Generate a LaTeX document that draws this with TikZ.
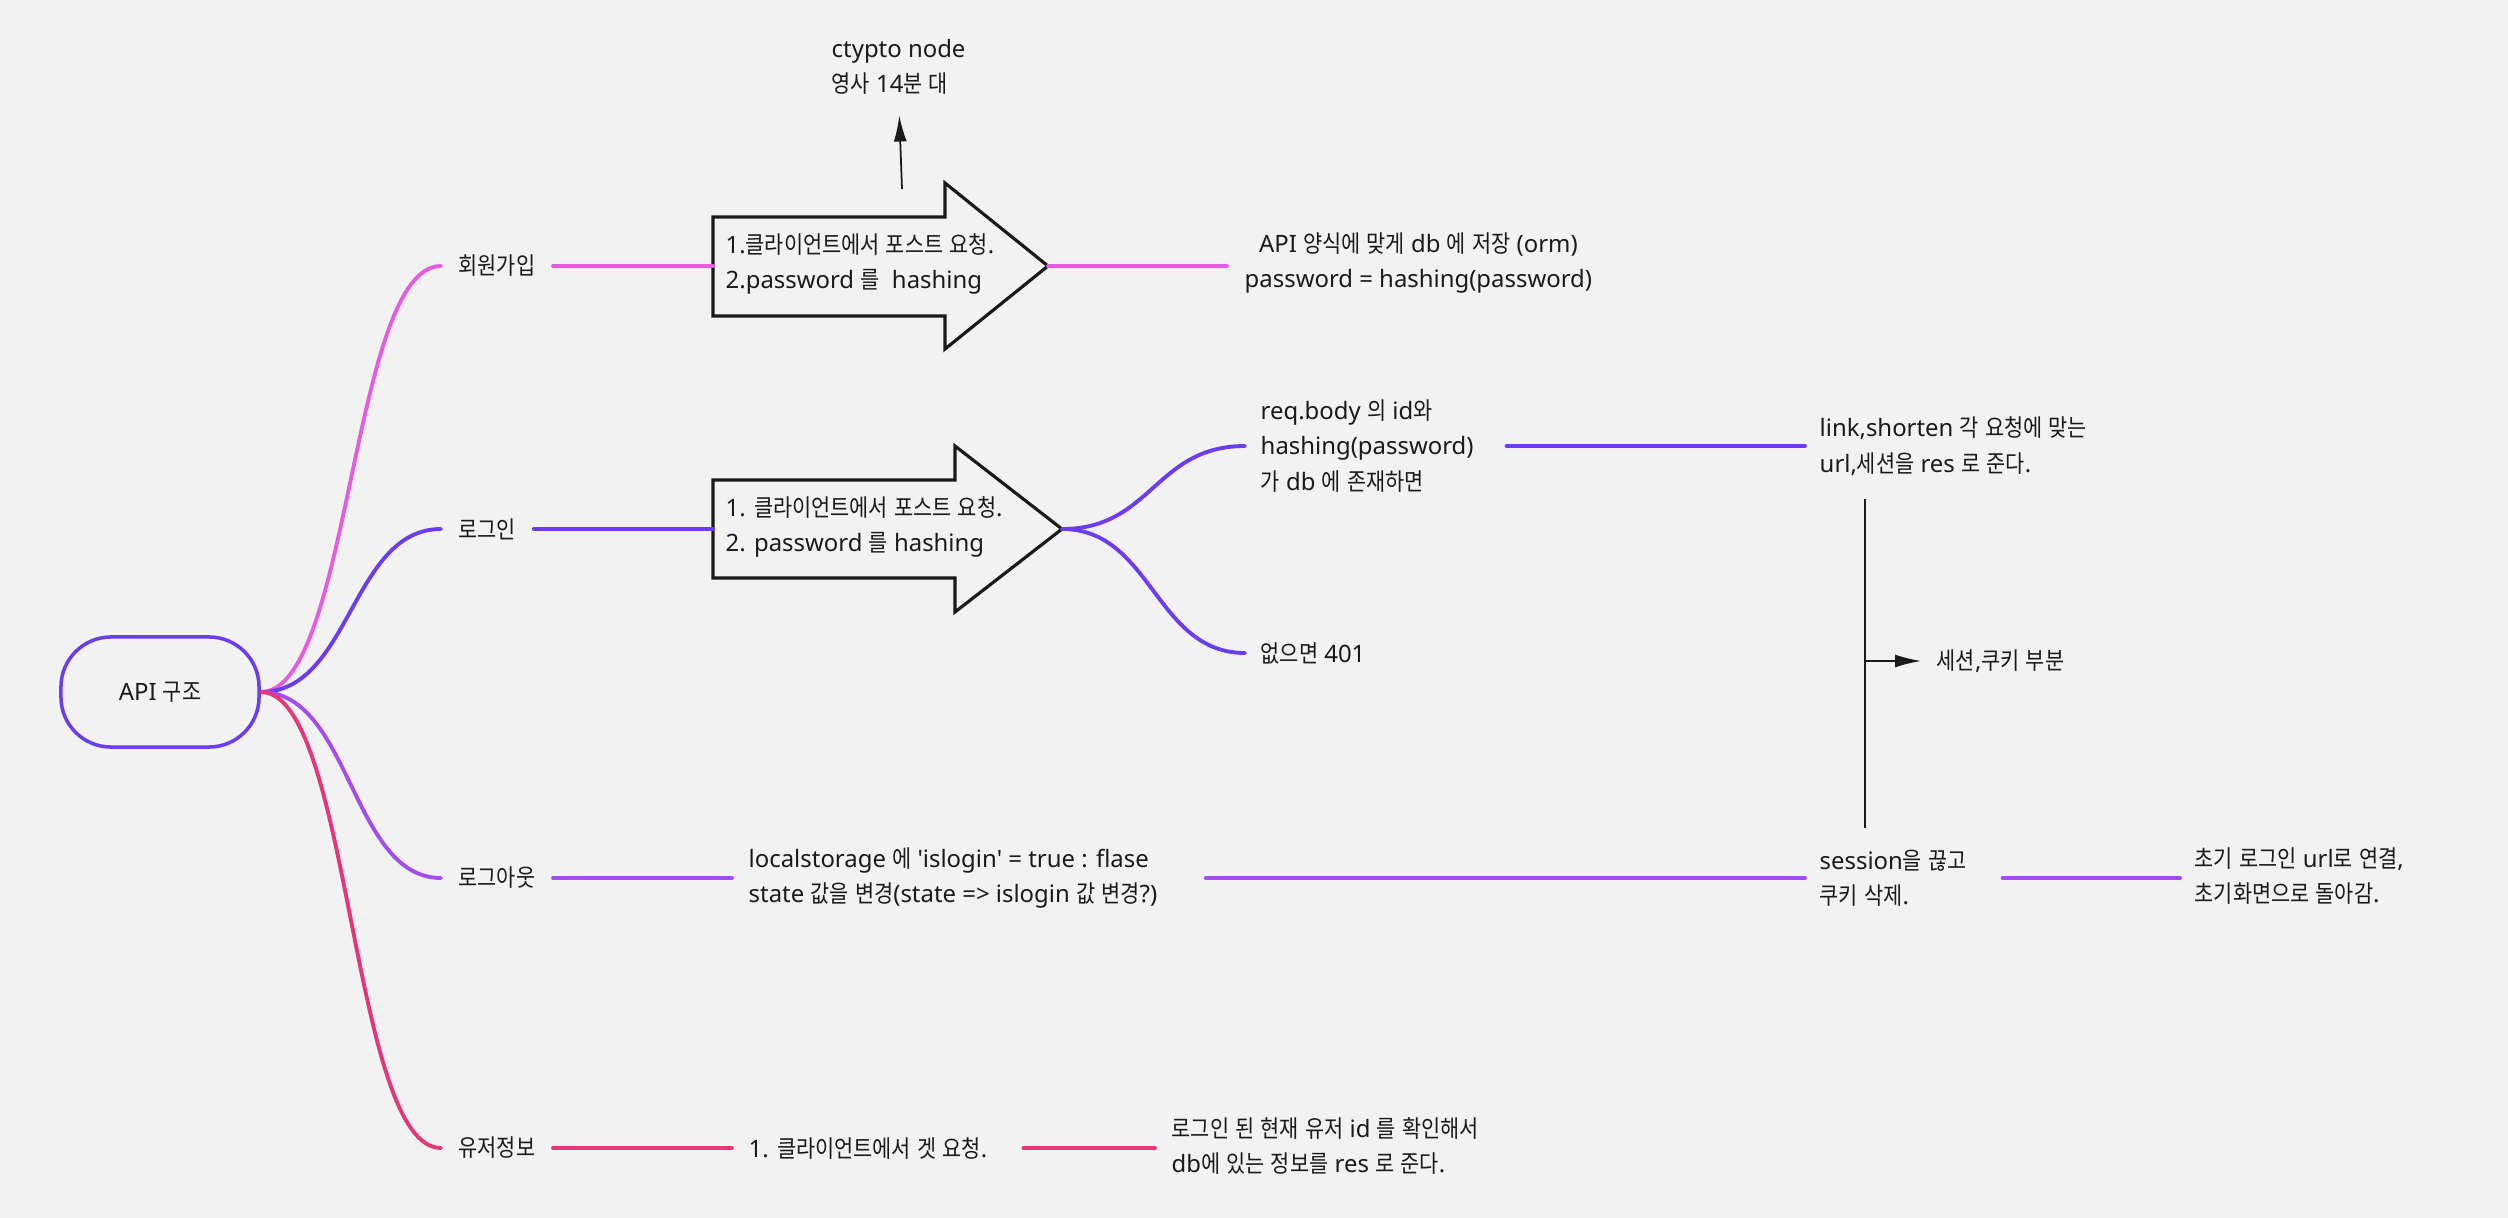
\documentclass[tikz,border=0pt]{standalone}
\usepackage{fontspec}
\usepackage{tikz}
\usepackage{xcolor}
\usetikzlibrary{positioning,arrows.meta,shapes.misc,calc}
\setmainfont{Noto Sans}
\newfontfamily\latinfont{Noto Sans}
\newfontfamily\hangulfont[FakeStretch=0.87]{Noto Sans CJK KR}
% hangul runs switch to the CJK font
\XeTeXinterchartokenstate=1
\newXeTeXintercharclass\hangulclass
\count255="AC00
\loop\XeTeXcharclass\count255=\hangulclass
\ifnum\count255<"D7A3 \advance\count255 by 1 \repeat
\XeTeXinterchartoks 0 \hangulclass={\hangulfont}
\XeTeXinterchartoks 4095 \hangulclass={\hangulfont}
\XeTeXinterchartoks \hangulclass 0={\latinfont}
\XeTeXinterchartoks \hangulclass 4095={\latinfont}

\definecolor{paper}{HTML}{F2F2F2}
\definecolor{ink}{HTML}{1A1A1A}
\definecolor{signupc}{HTML}{E65CE0}
\definecolor{loginc}{HTML}{6B3CF2}
\definecolor{logoutc}{HTML}{A24CF2}
\definecolor{userc}{HTML}{E8357A}

\begin{document}
\begin{tikzpicture}[x=0.01cm, y=-0.01cm,
    every node/.style={font=\fontsize{6.8}{10.1}\selectfont, text=ink, inner ysep=0pt, inner xsep=0.16cm},
    branch/.style={line width=1.1pt, line cap=round},
    txt/.style={anchor=west, align=flush left},
    blockarrow/.style={draw=ink, line width=0.9pt, fill=paper, line join=miter},
    note/.style={-{Latex[length=0.26cm,width=0.13cm]}, draw=ink, line width=0.5pt}]

    % Background
    \fill[paper] (0,0) rectangle (2508,1218);

    % Root
    \node[rectangle, rounded corners=0.5cm, draw=loginc, line width=1pt,
          minimum width=1.98cm, minimum height=1.1cm] (root) at (160,692) {API 구조};

    % Branch labels
    \node[txt, inner xsep=0.17cm] (signup) at (441,266) {회원가입};
    \node[txt, inner xsep=0.17cm] (login) at (441,529) {로그인};
    \node[txt, inner xsep=0.17cm] (logout) at (441,878) {로그아웃};
    \node[txt, inner xsep=0.17cm] (userinfo) at (441,1148) {유저정보};

    % Branches
    \draw[branch, signupc] (root.east) .. controls +(90,0) and +(-90,0) .. (signup.west);
    \draw[branch, loginc] (root.east) .. controls +(90,0) and +(-90,0) .. (login.west);
    \draw[branch, logoutc] (root.east) .. controls +(90,0) and +(-90,0) .. (logout.west);
    \draw[branch, userc] (root.east) .. controls +(90,0) and +(-90,0) .. (userinfo.west);

    % Sign-up: request arrow
    \draw[blockarrow] (713,217) -- (945,217) -- (945,183) -- (1048,266) -- (945,349) -- (945,316) -- (713,316) -- cycle;
    \node[txt, inner xsep=0.12cm] (reqA) at (713,264) {1.클라이언트에서 포스트 요청.\\2.password 를\ \ hashing};
    \coordinate (tipA) at (1048,266);
    \node[anchor=west, align=center, inner xsep=0.17cm] (store) at (1227,263) {API 양식에 맞게 db 에 저장 (orm)\\password = hashing(password)};
    \draw[branch, signupc] (signup.east) -- (signup.east -| reqA.west);
    \draw[branch, signupc] (tipA) -- (tipA -| store.west);

    % Crypto note
    \node[txt, inner xsep=0pt] (crypto) at (831,67) {ctypto node\\영사 14분 대};
    \coordinate (cryptoTail) at (902,189);
    \draw[note, shorten >=0.2cm] (cryptoTail) -- (crypto.south);

    % Login: request arrow
    \draw[blockarrow] (713,480) -- (955,480) -- (955,446) -- (1062,529) -- (955,612) -- (955,578) -- (713,578) -- cycle;
    \node[txt, inner xsep=0.12cm] (reqB) at (713,527) {1. 클라이언트에서 포스트 요청.\\2. password 를 hashing};
    \coordinate (tipB) at (1062,529);
    \draw[branch, loginc] (login.east) -- (login.east -| reqB.west);

    % Login: checks
    \node[txt, inner xsep=0.15cm, text width=2.3cm] (reqbody) at (1245,446) {req.body 의 id와\\hashing(password)\\가 db 에 존재하면};
    \node[txt, inner xsep=0.15cm] (fail) at (1245,653) {없으면 401};
    \node[txt, inner xsep=0.14cm] (linkres) at (1805,446) {link,shorten 각 요청에 맞는\\url,세션을 res 로 준다.};
    \draw[branch, loginc] (tipB) .. controls +(90,0) and +(-90,0) .. (reqbody.west);
    \draw[branch, loginc] (tipB) .. controls +(90,0) and +(-90,0) .. (fail.west);
    \draw[branch, loginc] (reqbody.east) -- (reqbody.east -| linkres.west);

    % Session / cookie part
    \coordinate (cutTop) at (1865,499);
    \coordinate (cutBot) at (1865,828);
    \draw[ink, line width=0.6pt] (cutTop) -- (cutBot);
    \node[txt, inner xsep=0.15cm] (cookie) at (1921,661) {세션,쿠키 부분};
    \draw[note] (cutTop |- cookie.west) -- (cookie.west);

    % Logout
    \node[txt, text width=4.4cm] (flag) at (732,878) {localstorage 에 \textquotesingle islogin\textquotesingle{} = true : flase\\state 값을 변경(state => islogin 값 변경?)};
    \node[txt, inner xsep=0.14cm, text width=1.68cm] (session) at (1805,878) {session을 끊고\\쿠키 삭제.};
    \node[txt, inner xsep=0.14cm] (reset) at (2180,876) {초기 로그인 url로 연결,\\초기화면으로 돌아감.};
    \draw[branch, logoutc] (logout.east) -- (logout.east -| flag.west);
    \draw[branch, logoutc] (flag.east) -- (flag.east -| session.west);
    \draw[branch, logoutc] (session.east) -- (session.east -| reset.west);

    % User info
    \node[txt, text width=2.58cm] (getreq) at (732,1148) {1. 클라이언트에서 겟 요청.};
    \node[txt] (userres) at (1155,1146) {로그인 된 현재 유저 id 를 확인해서\\db에 있는 정보를 res 로 준다.};
    \draw[branch, userc] (userinfo.east) -- (userinfo.east -| getreq.west);
    \draw[branch, userc] (getreq.east) -- (getreq.east -| userres.west);
\end{tikzpicture}
\end{document}
